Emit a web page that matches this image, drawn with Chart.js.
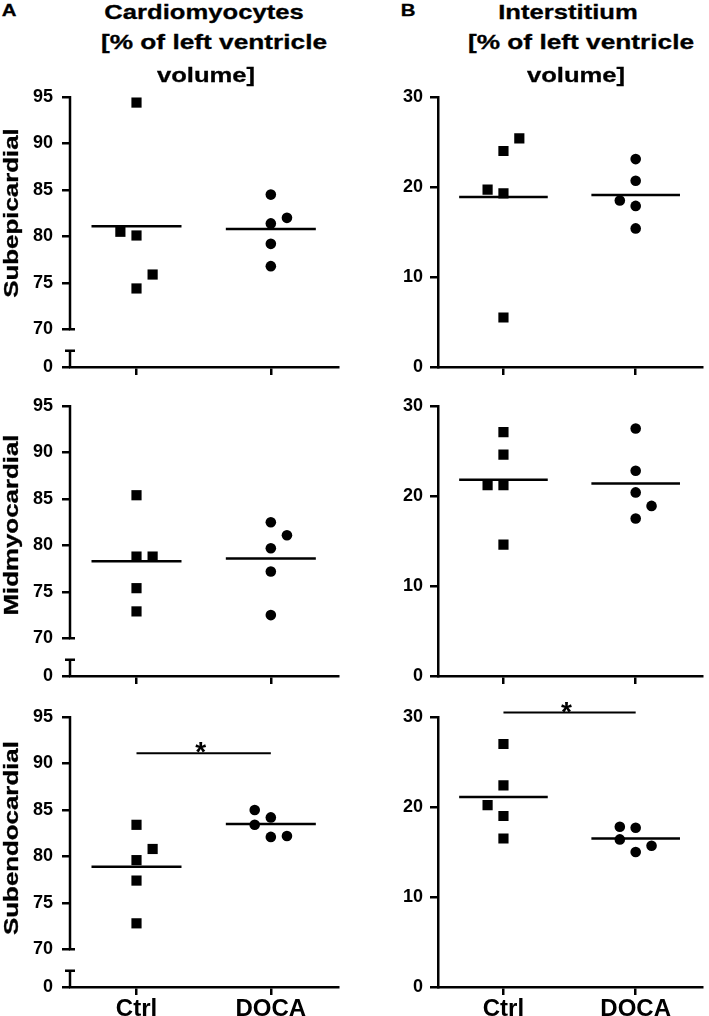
<!DOCTYPE html>
<html>
<head>
<meta charset="utf-8">
<script src="https://cdn.jsdelivr.net/npm/chart.js@4.4.0/dist/chart.umd.min.js"></script>
<style>
  html, body { margin: 0; padding: 0; background: #fff; overflow: hidden; }
  #page { position: relative; width: 709px; height: 1016px; overflow: hidden; font-family: "Liberation Sans", Arial, sans-serif; }
  canvas { position: absolute; }
  .txt { position: absolute; font-weight: bold; white-space: nowrap; line-height: 1; color: #000; -webkit-text-stroke: 0.3px #000; }
</style>
</head>
<body>
<div id="page"></div>
<script>
// values
const groups = ['Ctrl', 'DOCA']
const cardioTicks = [70, 75, 80, 85, 90, 95]
const interTicks = [0, 10, 20, 30]

const cardioEpiCtrl = [94.4, 80.5, 80.1, 75.9, 74.4]
const cardioEpiDoca = [84.5, 82.0, 81.4, 79.2, 76.8]
const cardioEpiMean = [81.1, 80.8]
const cardioMidCtrl = [85.4, 78.8, 78.8, 75.4, 72.9]
const cardioMidDoca = [82.5, 81.1, 79.7, 77.2, 72.5]
const cardioMidMean = [78.3, 78.6]
const cardioEndoCtrl = [83.4, 80.8, 79.6, 77.4, 72.8]
const cardioEndoDoca = [85.0, 84.2, 83.4, 82.1, 82.2]
const cardioEndoMean = [78.9, 83.5]

const interEpiCtrl = [25.4, 24.0, 19.7, 19.3, 5.5]
const interEpiDoca = [23.1, 20.7, 18.5, 17.9, 15.4]
const interEpiMean = [18.9, 19.1]
const interMidCtrl = [27.1, 24.6, 21.2, 21.2, 14.6]
const interMidDoca = [27.5, 22.8, 20.4, 18.9, 17.5]
const interMidMean = [21.8, 21.4]
const interEndoCtrl = [27.0, 22.4, 20.2, 19.0, 16.5]
const interEndoDoca = [17.8, 17.7, 16.4, 15.7, 15.0]
const interEndoMean = [21.1, 16.5]

const cardioEndoSig = 91.1
const interEndoSig = 30.5

// layout
const ROW_TOP = [97, 406, 717]
const ROW_H = 270
const PAD_TOP = 25
const X_AXIS_H = 30
const COLS = [
  { left: 0, width: 350, axisX: 70, padRight: 12, labelPad: 9 },
  { left: 360, width: 349, axisX: 438, padRight: 2, labelPad: 7 }
]
const SPREAD = 0.12
const MEAN_HALF = 0.335
const CARDIO_BASE = 65.95   // where the "0" of the broken axis sits
const BREAK_LOW = 67.7
const LW = 2.5

const FONT = '"Liberation Sans", Arial, sans-serif'
Chart.defaults.font.family = FONT
Chart.defaults.color = '#000'

const page = document.getElementById('page')

// broken y axis for the cardiomyocyte panels
const brokenAxis = {
  id: 'brokenAxis',
  afterDraw (chart, args, o) {
    if (!o.on) return
    const ys = chart.scales.y
    const x = chart.chartArea.left
    const ctx = chart.ctx
    const pTop = ys.getPixelForValue(ys.max)
    const pUp = ys.getPixelForValue(cardioTicks[0])
    const pLow = ys.getPixelForValue(BREAK_LOW)
    const pBot = ys.getPixelForValue(ys.min)
    ctx.save()
    ctx.strokeStyle = '#000'
    ctx.lineWidth = LW
    ctx.beginPath()
    ctx.moveTo(x, pTop - 1); ctx.lineTo(x, pUp + 1)
    ctx.moveTo(x - 1, pUp); ctx.lineTo(x + 5, pUp)
    ctx.moveTo(x - 5, pLow); ctx.lineTo(x + 5, pLow)
    ctx.moveTo(x, pLow - 1); ctx.lineTo(x, pBot + 1)
    ctx.stroke()
    ctx.restore()
  }
}

// asterisk over the significance bar
const sigStar = {
  id: 'sigStar',
  afterDraw (chart, args, o) {
    if (o.y == null) return
    const ctx = chart.ctx
    const px = chart.scales.x.getPixelForValue(1.5)
    const py = chart.scales.y.getPixelForValue(o.y)
    ctx.save()
    ctx.font = 'bold 28px ' + FONT
    ctx.textAlign = 'center'
    ctx.textBaseline = 'alphabetic'
    ctx.fillStyle = '#000'
    ctx.fillText('*', px - 3, py + 8)
    ctx.restore()
  }
}

const panels = [
  { col: 0, row: 0, ctrl: cardioEpiCtrl, doca: cardioEpiDoca, mean: cardioEpiMean, ctrlSlot: [0, -1, 0, 1, 0], docaSlot: [0, 1, 0, 0, 0] },
  { col: 0, row: 1, ctrl: cardioMidCtrl, doca: cardioMidDoca, mean: cardioMidMean, ctrlSlot: [0, 0, 1, 0, 0], docaSlot: [0, 1, 0, 0, 0] },
  { col: 0, row: 2, ctrl: cardioEndoCtrl, doca: cardioEndoDoca, mean: cardioEndoMean, ctrlSlot: [0, 1, 0, 0, 0], docaSlot: [-1, 0, -1, 0, 1], sig: cardioEndoSig },
  { col: 1, row: 0, ctrl: interEpiCtrl, doca: interEpiDoca, mean: interEpiMean, ctrlSlot: [1, 0, -1, 0, 0], docaSlot: [0, 0, -1, 0, 0] },
  { col: 1, row: 1, ctrl: interMidCtrl, doca: interMidDoca, mean: interMidMean, ctrlSlot: [0, 0, -1, 0, 0], docaSlot: [0, 0, 0, 1, 0] },
  { col: 1, row: 2, ctrl: interEndoCtrl, doca: interEndoDoca, mean: interEndoMean, ctrlSlot: [0, 0, -1, 0, 0], docaSlot: [-1, 0, -1, 1, 0], sig: interEndoSig }
]

function buildPanel (p) {
  const c = COLS[p.col]
  const canvas = document.createElement('canvas')
  canvas.width = c.width
  canvas.height = PAD_TOP + ROW_H + X_AXIS_H
  canvas.style.left = c.left + 'px'
  canvas.style.top = (ROW_TOP[p.row] - PAD_TOP) + 'px'
  page.appendChild(canvas)

  const isCardio = p.col === 0
  const bottomRow = p.row === 2
  const pts = (vals, slots, g) => vals.map((v, i) => ({ x: g + slots[i] * SPREAD, y: v }))
  const meanLine = (m, g) => [{ x: g - MEAN_HALF, y: m }, { x: g + MEAN_HALF, y: m }]
  const line = { showLine: true, borderColor: '#000', borderWidth: LW, pointRadius: 0 }

  const datasets = [
    { data: pts(p.ctrl, p.ctrlSlot, 1), pointStyle: 'rect', pointRadius: 7.2, backgroundColor: '#000', borderWidth: 0 },
    { data: pts(p.doca, p.docaSlot, 2), pointStyle: 'circle', pointRadius: 5.3, backgroundColor: '#000', borderWidth: 0 },
    { data: meanLine(p.mean[0], 1), ...line },
    { data: meanLine(p.mean[1], 2), ...line }
  ]
  if (p.sig) datasets.push({ data: [{ x: 1, y: p.sig }, { x: 2, y: p.sig }], ...line, borderWidth: 2, clip: false })

  const yTicks = isCardio ? [CARDIO_BASE, ...cardioTicks] : interTicks

  new Chart(canvas, {
    type: 'scatter',
    data: { datasets },
    options: {
      responsive: false,
      animation: false,
      events: [],
      layout: { padding: { top: PAD_TOP, right: c.padRight, left: 0, bottom: 0 } },
      plugins: {
        legend: { display: false },
        tooltip: { enabled: false },
        brokenAxis: { on: isCardio },
        sigStar: { y: p.sig }
      },
      scales: {
        x: {
          type: 'linear',
          min: 0.505,
          max: 2.5,
          afterBuildTicks: s => { s.ticks = [{ value: 1 }, { value: 2 }] },
          afterFit: s => { s.height = X_AXIS_H },
          ticks: {
            callback: v => bottomRow ? groups[v - 1] : '',
            font: { size: 24, weight: 'bold' },
            padding: 0,
            maxRotation: 0,
            autoSkip: false
          },
          grid: { display: true, drawOnChartArea: false, drawTicks: true, tickLength: 8, color: '#000', lineWidth: LW },
          border: { display: true, color: '#000', width: LW }
        },
        y: {
          type: 'linear',
          min: isCardio ? CARDIO_BASE : 0,
          max: isCardio ? 95 : 30,
          afterBuildTicks: s => { s.ticks = yTicks.map(v => ({ value: v })) },
          afterFit: s => { s.width = c.axisX - c.left },
          ticks: {
            callback: v => (isCardio && v < cardioTicks[0]) ? '0' : String(v),
            font: { size: 18, weight: 'bold' },
            padding: c.labelPad,
            autoSkip: false
          },
          grid: { display: true, drawOnChartArea: false, drawTicks: true, tickLength: 8, color: '#000', lineWidth: LW },
          border: { display: !isCardio, color: '#000', width: LW }
        }
      }
    },
    plugins: [brokenAxis, sigStar]
  })
}

panels.forEach(buildPanel)

// headings and row labels
function addText (text, cx, baseline, size, stretch) {
  const d = document.createElement('div')
  d.className = 'txt'
  d.textContent = text
  d.style.fontSize = size + 'px'
  d.style.left = cx + 'px'
  d.style.top = (baseline - size * 0.8465) + 'px'
  d.style.transform = 'translateX(-50%) scaleX(' + stretch + ')'
  page.appendChild(d)
}

function addRowLabel (text, cx, cy, size, stretch) {
  const d = document.createElement('div')
  d.className = 'txt'
  d.textContent = text
  d.style.fontSize = size + 'px'
  d.style.left = cx + 'px'
  d.style.top = cy + 'px'
  d.style.transform = 'translate(-50%, -50%) rotate(-90deg) scaleX(' + stretch + ')'
  page.appendChild(d)
}

addText('A', 9, 16.7, 17, 1.2)
addText('B', 407.5, 16.7, 17, 1.2)

addText('Cardiomyocytes', 204, 18.3, 21, 1.22)
addText('[% of left ventricle', 214, 48.5, 21, 1.25)
addText('volume]', 205.5, 81.5, 21, 1.22)

addText('Interstitium', 567.5, 18.3, 21, 1.22)
addText('[% of left ventricle', 580.8, 48.5, 21, 1.25)
addText('volume]', 575.8, 81.5, 21, 1.22)

addRowLabel('Subepicardial', 9.5, 212.5, 21, 1.23)
addRowLabel('Midmyocardial', 9.5, 525, 21, 1.23)
addRowLabel('Subendocardial', 9.5, 837.5, 21, 1.23)
</script>
</body>
</html>
